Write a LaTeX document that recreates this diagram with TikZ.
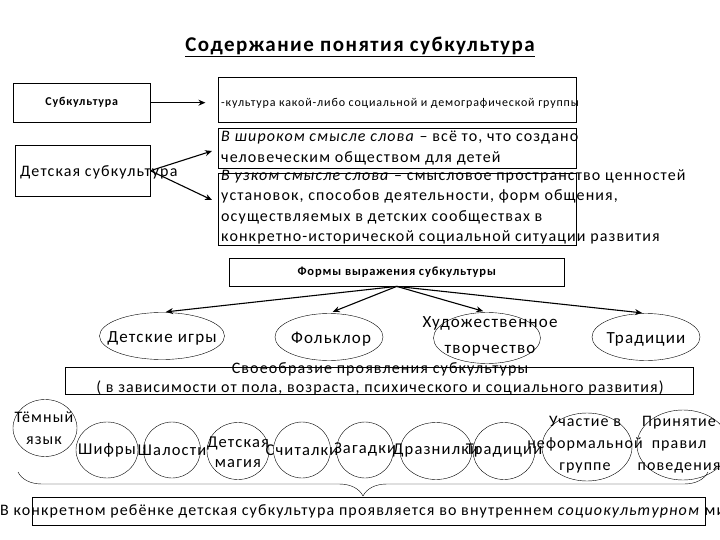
\documentclass[tikz,border=0pt]{standalone}
\usepackage{fontspec}
\setmainfont[LetterSpace=7]{Carlito}
\usetikzlibrary{shapes.geometric}
\usetikzlibrary{arrows.meta}
\usetikzlibrary{decorations.pathreplacing}
\newcommand{\fs}[2]{\fontsize{#1}{#2}\selectfont}

\begin{document}
\begin{tikzpicture}[x=1pt,y=-1pt,
    box/.style={draw, rectangle, inner sep=0pt, anchor=north west},
    oval/.style={draw, ellipse, inner sep=0pt},
    txt/.style={inner sep=0pt, align=left},
    arr/.style={-{Stealth[length=7pt,width=6pt]}, line width=1.1pt}]
    \useasboundingbox (0,0) rectangle (720,540);

    \node[inner sep=0pt, font=\fs{21}{24}\bfseries] (title) at (360,47) {\underline{Содержание понятия субкультура}};

    % left column
    \node[box, minimum width=137pt, minimum height=39pt] (sub) at (13,83) {};
    \node[txt, font=\fs{12}{14}\bfseries] (subt) at (sub.center) {Субкультура};
    \node[box, minimum width=135pt, minimum height=51pt] (child) at (15,145) {};
    \node[txt, anchor=west, font=\fs{16}{19}] (childt) at (20,172) {Детская субкультура};

    % right column
    \node[box, minimum width=358pt, minimum height=45pt] (def) at (218,77) {};
    \node[txt, anchor=west, font=\fs{12}{14}] (deft) at (221,103) {-культура какой-либо социальной и демографической группы};
    \node[box, minimum width=358pt, minimum height=40pt] (wide) at (218,128) {};
    \node[txt, anchor=west, font=\fs{16}{21.5}] (widet) at (221,148) {\textit{В широком смысле слова} – всё то, что создано\\
        человеческим обществом для детей};
    \node[box, minimum width=358pt, minimum height=72pt] (narrow) at (218,173) {};
    \node[txt, anchor=west, font=\fs{16}{20.3}] (narrowt) at (221,207) {\textit{В узком смысле слова} – смысловое пространство ценностей\\
        установок, способов деятельности, форм общения,\\
        осуществляемых в детских сообществах в\\
        конкретно-исторической социальной ситуации развития};

    \coordinate (wideend) at (212,151);
    \coordinate (narrowend) at (212,200);
    \draw[arr] (sub.east) -- ++(55,0);
    \draw[arr] (child.east) -- (wideend);
    \draw[arr] (child.east) -- (narrowend);

    % forms
    \node[box, minimum width=335pt, minimum height=28pt] (forms) at (229,258) {};
    \node[txt, font=\fs{12.5}{14}\bfseries] (formst) at (forms.center) {Формы выражения субкультуры};

    \node[oval, minimum width=125pt, minimum height=47pt] (games) at (162,336) {};
    \node[txt, font=\fs{17}{20}] (gamest) at (162,338) {Детские игры};
    \node[oval, minimum width=108pt, minimum height=47pt] (folk) at (329,337) {};
    \node[txt, font=\fs{17}{20}] (folkt) at (331,339) {Фольклор};
    \node[oval, minimum width=107pt, minimum height=51pt] (art) at (487,338) {};
    \node[txt, align=center, font=\fs{17}{26}] (artt) at (490,336) {Художественное\\творчество};
    \node[oval, minimum width=108pt, minimum height=47pt] (trad) at (646,337) {};
    \node[txt, font=\fs{17}{20}] (tradt) at (646,339) {Традиции};

    \draw[arr, shorten >=4pt] (forms.south) -- (games.north);
    \draw[arr, shorten >=4pt] (forms.south) -- (folk.north);
    \draw[arr, shorten >=4pt] (forms.south) -- (art.north);
    \draw[arr, shorten >=4pt] (forms.south) -- (trad.north);

    \node[box, minimum width=628pt, minimum height=27pt] (own) at (65,367) {};
    \node[txt, align=center, font=\fs{16}{18.5}] (ownt) at (380,379) {Своеобразие проявления субкультуры\\
        ( в зависимости от пола, возраста, психического и социального развития)};

    % manifestations
    \node[oval, minimum width=64pt, minimum height=57pt] (dark) at (45,428) {};
    \node[txt, align=center, font=\fs{16}{22}] (darkt) at (44,428) {Тёмный\\язык};
    \node[oval, minimum width=62pt, minimum height=56pt] (ciph) at (107,450) {};
    \node[txt, font=\fs{16.5}{19}] (ciipht) at (ciph.center) {Шифры};
    \node[oval, minimum width=57pt, minimum height=56pt] (prank) at (172,450) {};
    \node[txt, font=\fs{16.5}{19}] (prankt) at (prank.center) {Шалости};
    \node[oval, minimum width=62pt, minimum height=57pt] (magic) at (238,451) {};
    \node[txt, align=center, font=\fs{16.5}{20}] (magict) at (238,452) {Детская\\магия};
    \node[oval, minimum width=57pt, minimum height=56pt] (count) at (302,450) {};
    \node[txt, font=\fs{16.5}{19}] (countt) at (count.center) {Считалки};
    \node[oval, minimum width=57pt, minimum height=56pt] (riddle) at (365,450) {};
    \node[txt, font=\fs{16.5}{19}] (riddlet) at (riddle.center) {Загадки};
    \node[oval, minimum width=72pt, minimum height=57pt] (tease) at (436,451) {};
    \node[txt, font=\fs{16.5}{19}] (teaset) at (tease.center) {Дразнилки};
    \node[oval, minimum width=62pt, minimum height=57pt] (trad2) at (504,451) {};
    \node[txt, font=\fs{16.5}{19}] (trad2t) at (trad2.center) {Традиции};
    \node[oval, minimum width=90pt, minimum height=68pt] (group) at (587,447) {};
    \node[txt, align=center, font=\fs{16}{22}] (groupt) at (585,445) {Участие в\\неформальной\\группе};
    \node[oval, minimum width=92pt, minimum height=70pt] (rules) at (683,445) {};
    \node[txt, align=center, font=\fs{16}{22}] (rulest) at (679,445) {Принятие\\правил\\поведения};

    \coordinate (bl) at (18,472);
    \coordinate (br) at (708,472);
    \draw[decorate, decoration={brace, mirror, amplitude=24pt}] (bl) -- (br);

    \node[box, minimum width=673pt, minimum height=28pt] (child2) at (32,497) {};
    \node[txt, anchor=west, font=\fs{16}{19}] (child2t) at (0,511) {В конкретном ребёнке детская субкультура проявляется во внутреннем \textit{социокультурном} мире};
\end{tikzpicture}
\end{document}
